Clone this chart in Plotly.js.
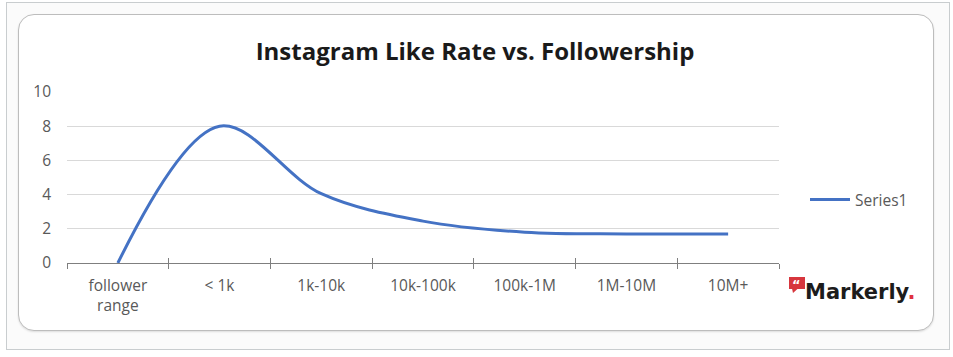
<!DOCTYPE html>
<html>
<head>
<meta charset="utf-8">
<script src="https://cdn.plot.ly/plotly-3.0.1.min.js"></script>
<style>
  html, body { margin:0; padding:0; background:#ffffff; }
  #wrap { position:relative; width:953px; height:357px; overflow:hidden; }
  #frame { position:absolute; left:6px; top:2px; width:944px; height:348px; border:1px solid #c9cdcf; background:#fbfbfb; box-sizing:border-box; }
  #card { position:absolute; left:18px; top:14px; width:916px; height:317px; border:1.5px solid #bdbdbd; border-radius:16px; background:#ffffff; box-sizing:border-box; box-shadow:0 1px 2px rgba(0,0,0,0.12); }
  #chart { position:absolute; left:0; top:0; width:953px; height:357px; }
</style>
</head>
<body>
<div id="wrap">
  <div id="frame"></div>
  <div id="card"></div>
  <div id="chart"></div>
</div>
<script>
// Data
const categories = ["follower<br>range", "< 1k", "1k-10k", "10k-100k", "100k-1M", "1M-10M", "10M+"];
const likeRate = [0, 8.0, 4.05, 2.45, 1.8, 1.7, 1.7];
const yTicks = [0, 2, 4, 6, 8, 10];
const seriesName = "Series1";

const textGray = "#595959";
const lblFont = { family: "'Open Sans', Lato, sans-serif", size: 15.5, color: textGray };

const traces = [
  {
    x: categories, y: likeRate, name: seriesName,
    type: "scatter", mode: "lines",
    line: { color: "#4472C4", width: 3, shape: "spline", smoothing: 1 },
    hoverinfo: "x+y"
  },
  {
    x: categories, y: likeRate, xaxis: "x2", yaxis: "y",
    type: "scatter", mode: "lines", showlegend: false, hoverinfo: "skip",
    line: { width: 0, color: "rgba(0,0,0,0)" }
  }
];

const W = 953, H = 357;
const L = 67, R = 779, T = 92, B = 263;
const px = v => (v - L) / (R - L);
const py = v => (B - v) / (B - T);

const layout = {
  width: W, height: H,
  margin: { l: L, r: W - R, t: T, b: H - B, pad: 0 },
  paper_bgcolor: "rgba(0,0,0,0)",
  plot_bgcolor: "rgba(0,0,0,0)",
  title: {
    text: "<b>Instagram Like Rate vs. Followership</b>",
    font: { family: "'Open Sans', Lato, sans-serif", size: 24, color: "#1a1a1a" },
    x: 475 / W, xref: "container", xanchor: "center",
    y: 1 - 52 / H, yref: "container", yanchor: "middle"
  },
  xaxis: {
    type: "category",
    range: [-0.5, categories.length - 0.5],
    tickson: "boundaries",
    ticks: "outside", ticklen: 5, tickwidth: 1, tickcolor: "#7f7f7f",
    ticklabelstandoff: 8,
    showline: true, linecolor: "#7f7f7f", linewidth: 1.3,
    showgrid: false, zeroline: false,
    tickfont: lblFont,
    fixedrange: true
  },
  xaxis2: {
    type: "category", overlaying: "x", matches: "x", anchor: "y",
    range: [-0.5, categories.length - 0.5],
    tickson: "boundaries",
    ticks: "inside", ticklen: 5, tickwidth: 1, tickcolor: "#7f7f7f",
    showticklabels: false, showline: false, showgrid: false, zeroline: false
  },
  yaxis: {
    range: [0, 10],
    tickvals: yTicks, ticktext: yTicks.map(String),
    ticks: "", ticklabelstandoff: 15,
    showline: false, zeroline: false,
    showgrid: true, gridcolor: "#d9d9d9", gridwidth: 1.3,
    tickfont: lblFont,
    fixedrange: true
  },
  showlegend: true,
  legend: {
    x: px(805), xanchor: "left",
    y: py(200), yanchor: "middle",
    font: lblFont,
    itemwidth: 40,
    bgcolor: "rgba(0,0,0,0)"
  },
  shapes: [
    {
      type: "rect", xref: "paper", yref: "paper",
      x0: px(789), x1: px(805), y0: py(289), y1: py(277),
      fillcolor: "#d7363d", line: { width: 0 }
    },
    {
      type: "path", xref: "paper", yref: "paper",
      path: "M" + px(792) + "," + py(288.5) + " L" + px(798) + "," + py(288.5) + " L" + px(793) + "," + py(293) + " Z",
      fillcolor: "#d7363d", line: { width: 0 }
    }
  ],
  annotations: [
    {
      xref: "paper", yref: "paper",
      x: px(860), y: py(292), xanchor: "center", yanchor: "middle",
      text: "<b>Markerly</b><span style='color:#e0313f'><b>.</b></span>",
      showarrow: false,
      font: { family: "'DejaVu Sans', sans-serif", size: 21, color: "#1c1c1c" }
    },
    {
      xref: "paper", yref: "paper",
      x: px(797), y: py(284), xanchor: "center", yanchor: "middle",
      text: "<b>“</b>",
      showarrow: false,
      font: { family: "'DejaVu Sans', sans-serif", size: 13, color: "#ffffff" }
    }
  ]
};

Plotly.newPlot("chart", traces, layout, { displayModeBar: false, staticPlot: true });
</script>
</body>
</html>
